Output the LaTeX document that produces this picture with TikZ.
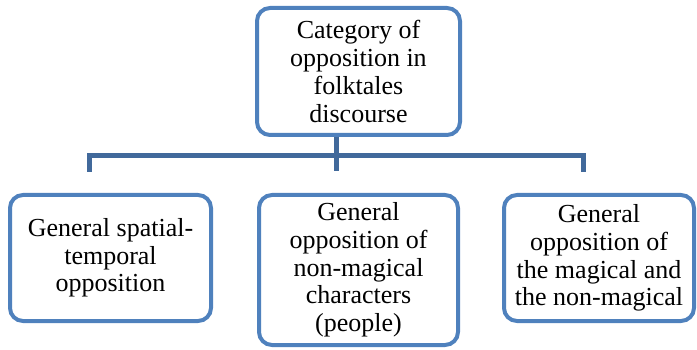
\documentclass[tikz,border=0pt]{standalone}
\usepackage{fontspec}
\setmainfont{Liberation Serif}
\newfontfamily\boxfont{Liberation Serif}
\definecolor{boxblue}{HTML}{4F81BD}
\definecolor{linkblue}{HTML}{41699B}
\begin{document}
\begin{tikzpicture}[x=1pt,y=-1pt,
  catbox/.style={draw=boxblue,line width=4pt,rounded corners=13pt,fill=white,
    align=center,inner sep=0pt,font=\boxfont\fontsize{26}{27.7}\selectfont},
  link/.style={draw=linkblue,line width=5pt}]
\useasboundingbox (0,0) rectangle (697,350);
\node[catbox,minimum width=203pt,minimum height=127pt] (top) at (358.5,71.5)
  {Category of\\opposition in\\folktales\\discourse};
\node[catbox,minimum width=201pt,minimum height=126pt] (left) at (110.5,258)
  {General spatial-\\temporal\\opposition};
\node[catbox,minimum width=199pt,minimum height=150pt] (mid) at (358.5,270)
  {General\\opposition of\\non-magical\\characters\\(people)};
\node[catbox,minimum width=190pt,minimum height=126pt] (right) at (599,258)
  {General\\opposition of\\the magical and\\the non-magical};
\coordinate (j) at (336,156);
\coordinate (jl) at (89,156);
\coordinate (jr) at (583,156);
\coordinate (el) at (89,172);
\coordinate (em) at (336,171);
\coordinate (er) at (583,172);
\draw[link] (top.south -| j) -- (em);
\draw[link] (el) -- (jl) -- (jr) -- (er);
\end{tikzpicture}
\end{document}
